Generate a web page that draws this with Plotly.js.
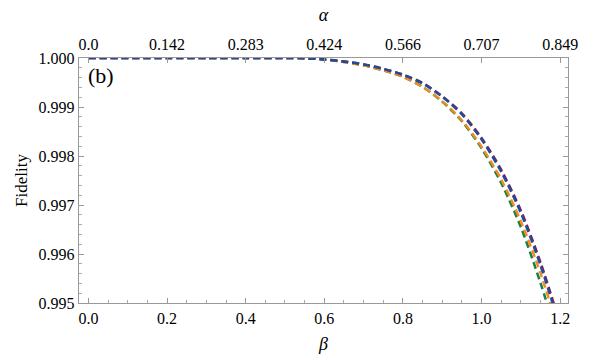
<!DOCTYPE html>
<html>
<head>
<meta charset="utf-8">
<script src="https://cdn.plot.ly/plotly-3.0.1.min.js"></script>
<style>
  html, body { margin: 0; padding: 0; background: #fff; }
  #plot { width: 600px; height: 361px; }
</style>
</head>
<body>
<div id="plot"></div>
<script>
// beta grid and the four fidelity curves
const beta = [0.0, 0.1, 0.2, 0.3, 0.4, 0.5, 0.55, 0.6, 0.65, 0.7, 0.75, 0.8, 0.85, 0.9, 0.95, 1.0, 1.05, 1.1, 1.15, 1.2];
const fPurple = [1, 1, 1, 1, 1, 1, 0.999995, 0.99997, 0.99993, 0.99987, 0.99978, 0.99966, 0.99949, 0.99922, 0.99887, 0.99837, 0.99772, 0.99689, 0.99583, 0.99457];
const fBlue   = [1, 1, 1, 1, 1, 1, 0.999995, 0.99997, 0.99993, 0.99987, 0.99978, 0.99966, 0.99948, 0.99921, 0.99885, 0.99834, 0.99768, 0.99684, 0.99577, 0.99450];
const fGreen  = [1, 1, 1, 1, 1, 1, 0.999995, 0.99997, 0.99992, 0.99985, 0.99975, 0.99962, 0.99941, 0.99911, 0.99871, 0.99816, 0.99745, 0.99655, 0.99541, 0.99411];
const fOrange = [1, 1, 1, 1, 1, 1, 0.999995, 0.99997, 0.99992, 0.99985, 0.99975, 0.99962, 0.99941, 0.99912, 0.99873, 0.99819, 0.99752, 0.99667, 0.99561, 0.99434];

// tick labels
const betaTicks = [0.0, 0.2, 0.4, 0.6, 0.8, 1.0, 1.2];
const alphaLabels = ["0.0", "0.142", "0.283", "0.424", "0.566", "0.707", "0.849"];
const fidTicks = [0.995, 0.996, 0.997, 0.998, 0.999, 1.000];

const serif = "Liberation Serif";
const dash = "7px,4px";

function curve(y, color) {
    return {
        x: beta, y: y,
        type: "scatter", mode: "lines",
        line: {color: color, width: 2.5, dash: dash, shape: "spline", smoothing: 0.8},
        hoverinfo: "skip", showlegend: false
    };
}

let data = [
    curve(fGreen, "#1b8045"),
    curve(fOrange, "#f28c1c"),
    curve(fPurple, "#8b1a5e"),
    curve(fBlue, "#1f4e96")
];

// an invisible trace so the top axis is drawn
data.push({x: [0], y: [1], xaxis: "x2", mode: "markers", marker: {opacity: 0}, hoverinfo: "skip", showlegend: false});

let layout = {
    width: 600, height: 361,
    margin: {l: 79, r: 32, t: 58, b: 58},
    paper_bgcolor: "#fff", plot_bgcolor: "#fff",
    font: {family: serif, size: 16, color: "#000"},
    xaxis: {
        range: [-0.024, 1.22],
        tickvals: betaTicks, tickformat: ".1f",
        ticks: "inside", ticklen: 5, tickcolor: "#999",
        minor: {dtick: 0.05, ticks: "inside", ticklen: 3, tickcolor: "#aaa"},
        showline: true, linecolor: "#999", linewidth: 1.3,
        showgrid: false, zeroline: false,
        title: {text: "<i>β</i>", font: {family: serif, size: 18}, standoff: 12}
    },
    xaxis2: {
        overlaying: "x", side: "top",
        range: [-0.024, 1.22],
        tickvals: betaTicks, ticktext: alphaLabels,
        ticks: "inside", ticklen: 5, tickcolor: "#999",
        showline: true, linecolor: "#999", linewidth: 1.3,
        showgrid: false, zeroline: false,
        title: {text: "<i>α</i>", font: {family: serif, size: 18}, standoff: 10}
    },
    yaxis: {
        range: [0.995, 1.0],
        tickvals: fidTicks, tickformat: ".3f",
        ticks: "inside", ticklen: 5, tickcolor: "#999",
        minor: {dtick: 0.0002, ticks: "inside", ticklen: 3, tickcolor: "#aaa"},
        showline: true, mirror: "ticks", linecolor: "#999", linewidth: 1.3,
        showgrid: false, zeroline: false,
        title: {text: "Fidelity", font: {family: serif, size: 17}, standoff: 6}
    },
    annotations: [{
        text: "(b)", xref: "paper", yref: "paper",
        x: 0.015, y: 0.93, xanchor: "left", yanchor: "middle",
        showarrow: false, font: {size: 22, family: serif}
    }]
};

Plotly.newPlot("plot", data, layout, {displayModeBar: false, staticPlot: true});
</script>
</body>
</html>
